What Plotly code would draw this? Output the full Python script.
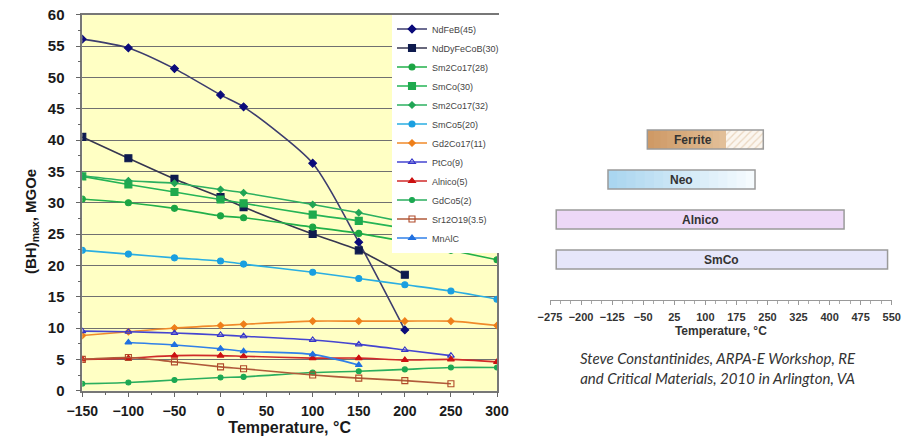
import plotly.graph_objects as go
import numpy as np

# ---------------- data: left chart ----------------
temps = [-150, -100, -50, 0, 25, 100, 150, 200, 250, 300]

ndfeb_45      = [56.1, 54.7, 51.4, 47.2, 45.3, 36.3, 23.7, 9.7, None, None]
ndfecob_30    = [40.5, 37.1, 33.8, 30.9, 29.3, 25.0, 22.4, 18.5, None, None]
sm2co17_28    = [30.6, 30.0, 29.1, 27.9, 27.6, 26.1, 25.1, 23.8, 22.4, 20.9]
smco_30       = [34.2, 32.9, 31.7, 30.5, 29.9, 28.1, 27.1, 25.9, 24.8, 23.8]
sm2co17_32    = [34.3, 33.5, 33.1, 32.1, 31.6, 29.7, 28.4, 26.9, 25.6, 23.8]
smco5_20      = [22.4, 21.8, 21.2, 20.7, 20.2, 18.9, 17.9, 16.9, 15.9, 14.6]
gd2co17_11    = [8.8, 9.4, 10.0, 10.4, 10.6, 11.1, 11.1, 11.1, 11.1, 10.4]
ptco_9        = [9.5, 9.4, 9.2, 8.9, 8.7, 8.1, 7.4, 6.5, 5.6, None]
alnico_5      = [5.0, 5.2, 5.6, 5.6, 5.5, 5.2, 5.2, 4.9, 5.0, 4.6]
gdco5_2       = [1.1, 1.3, 1.7, 2.1, 2.2, 2.9, 3.1, 3.4, 3.7, 3.7]
sr12o19_35    = [5.0, 5.3, 4.6, 3.8, 3.5, 2.5, 2.0, 1.6, 1.1, None]
mnalc         = [None, 7.7, 7.3, 6.7, 6.3, 5.8, 4.1, None, None, None]

x_ticks = [-150, -100, -50, 0, 50, 100, 150, 200, 250, 300]
y_ticks = [0, 5, 10, 15, 20, 25, 30, 35, 40, 45, 50, 55, 60]

# ---------------- data: right chart ----------------
bar_names = ["SmCo", "Alnico", "Neo", "Ferrite"]
bar_start = [-260, -260, -135, -40]
bar_end = [540, 435, 220, 150]
ferrite_ext_end = 240            # hatched (extended) range of ferrite
range_ticks = [-275, -200, -125, -50, 25, 100, 175, 250, 325, 400, 475, 550]

# ---------------- figure ----------------
fig = go.Figure()

series = [
    ("NdFeB(45)", ndfeb_45, "#3d3d6e", "#0b0b7a", "diamond", 6),
    ("NdDyFeCoB(30)", ndfecob_30, "#363650", "#0e1a4e", "square", 7),
    ("Sm2Co17(28)", sm2co17_28, "#22b04a", "#1ca544", "circle", 6),
    ("SmCo(30)", smco_30, "#25b456", "#1faa4e", "square", 7),
    ("Sm2Co17(32)", sm2co17_32, "#2cb060", "#20a555", "diamond", 5),
    ("SmCo5(20)", smco5_20, "#2aaee2", "#1a9fe0", "circle", 6),
    ("Gd2Co17(11)", gd2co17_11, "#f08a2a", "#ee7f1a", "diamond", 5),
    ("PtCo(9)", ptco_9, "#4545d0", "#3535c8", "triangle-up-open", 6),
    ("Alnico(5)", alnico_5, "#d02a2a", "#cc1010", "triangle-up", 6),
    ("GdCo5(2)", gdco5_2, "#2aae5e", "#1ca852", "circle", 5),
    ("Sr12O19(3.5)", sr12o19_35, "#b05a3a", "#b04a2a", "square-open", 6),
    ("MnAlC", mnalc, "#3080e8", "#2070e0", "triangle-up", 6),
]

for name, vals, lc, mc, sym, ms in series:
    fig.add_trace(go.Scatter(
        x=temps, y=vals, name=name, mode="lines+markers",
        line=dict(color=lc, width=1.6, shape="spline", smoothing=0.7),
        marker=dict(color=mc, symbol=sym, size=ms, line=dict(color=mc, width=1.1)),
        connectgaps=False, xaxis="x", yaxis="y",
    ))

# ----- right chart bars -----
def hex2rgb(h):
    h = h.lstrip("#")
    return np.array([int(h[i:i + 2], 16) for i in (0, 2, 4)], dtype=float)

def grad_segments(y, x0, x1, c0, c1, n):
    edges = np.linspace(x0, x1, n + 1)
    a, b = hex2rgb(c0), hex2rgb(c1)
    for i in range(n):
        t = i / (n - 1) if n > 1 else 0.0
        c = a + (b - a) * t
        end = x1 if i == n - 1 else edges[i + 1] + 3  # slight overlap avoids seams
        fig.add_trace(go.Bar(
            y=[y], x=[end - edges[i]], base=[edges[i]], orientation="h",
            marker=dict(color="rgb(%d,%d,%d)" % tuple(c), line=dict(width=0)),
            width=0.47, showlegend=False, hoverinfo="skip", xaxis="x2", yaxis="y2",
        ))

fills = {
    "SmCo": ("#e6e6fa", "#e6e6fa", 1),
    "Alnico": ("#edd8f7", "#edd8f7", 1),
    "Neo": ("#aad6f0", "#f5fbfe", 16),
    "Ferrite": ("#cf9a66", "#e2bf98", 12),
}
for i, nm in enumerate(bar_names):
    c0, c1, n = fills[nm]
    grad_segments(i, bar_start[i], bar_end[i], c0, c1, n)

# ferrite hatched extension
fi = bar_names.index("Ferrite")
fig.add_trace(go.Bar(
    y=[fi], x=[ferrite_ext_end - bar_end[fi]], base=[bar_end[fi]], orientation="h",
    marker=dict(color="white", line=dict(width=0),
                pattern=dict(shape="/", fgcolor="#d9b892", bgcolor="#fbf6ef", size=5, solidity=0.25)),
    width=0.47, showlegend=False, hoverinfo="skip", xaxis="x2", yaxis="y2",
))

# outlines
full_end = list(bar_end)
full_end[fi] = ferrite_ext_end
fig.add_trace(go.Bar(
    y=list(range(len(bar_names))), x=[e - s for s, e in zip(bar_start, full_end)], base=bar_start,
    orientation="h", width=0.47,
    marker=dict(color="rgba(0,0,0,0)", line=dict(color="#9a9a9a", width=1.5)),
    showlegend=False, hoverinfo="skip", xaxis="x2", yaxis="y2",
))

for i, nm in enumerate(bar_names):
    fig.add_annotation(
        x=(bar_start[i] + full_end[i]) / 2, y=i, xref="x2", yref="y2", text="<b>%s</b>" % nm,
        showarrow=False, xanchor="center", yanchor="middle",
        xshift=-12 if nm == "Ferrite" else 0,
        font=dict(family="Liberation Sans", size=12, color="#333333"),
    )

W, H = 915, 443
def px_x(p): return p / W
def px_y(p): return 1 - p / H

axis_font = dict(family="Liberation Sans", size=14, color="#1a1a1a", weight="bold")

# yellow plot-area background for the left chart only
fig.add_shape(type="rect", xref="x domain", yref="y domain", x0=0, x1=1, y0=0, y1=1,
              fillcolor="#ffffc4", line=dict(width=0), layer="below")

fig.update_layout(
    width=W, height=H,
    margin=dict(l=0, r=0, t=0, b=0, autoexpand=False),
    paper_bgcolor="white",
    plot_bgcolor="white",
    barmode="overlay",
    showlegend=True,
    legend=dict(
        x=px_x(392), y=px_y(14.5), xanchor="left", yanchor="top",
        bgcolor="white", borderwidth=0,
        font=dict(family="Liberation Sans", size=9, color="#444444"),
        itemwidth=30, tracegroupgap=0,
    ),
    xaxis=dict(
        domain=[px_x(82.3), px_x(497)], range=[-150, 300], automargin=False,
        tickvals=x_ticks, ticks="outside", ticklen=5, tickcolor="#666666",
        minor=dict(dtick=25, tick0=-150, ticks="outside", ticklen=3, tickcolor="#666666", showgrid=False),
        showline=True, linecolor="#777777", linewidth=1.5, mirror=True,
        showgrid=False, zeroline=False, tickfont=axis_font, ticklabelstandoff=2,
        title=dict(text="<b>Temperature, °C</b>", font=dict(family="Liberation Sans", size=16, color="#1a1a1a"),
                   standoff=3),
        anchor="y",
    ),
    yaxis=dict(
        domain=[px_y(390.7), px_y(14.7)], range=[0, 60], automargin=False,
        tickvals=y_ticks, ticks="outside", ticklen=5, tickcolor="#666666",
        minor=dict(dtick=2.5, ticks="outside", ticklen=3, tickcolor="#666666", showgrid=False),
        showline=True, linecolor="#777777", linewidth=1.5, mirror=True,
        showgrid=True, gridcolor="#707070", gridwidth=1, zeroline=False,
        tickfont=dict(family="Liberation Sans", size=15, color="#1a1a1a", weight="bold"),
        ticklabelstandoff=8,
        anchor="x",
    ),
    xaxis2=dict(
        domain=[px_x(550), px_x(891.7)], range=[-275, 550], automargin=False,
        tickvals=range_ticks, ticks="outside", ticklen=4, tickcolor="#999999",
        minor=dict(dtick=25, tick0=-275, ticks="outside", ticklen=3, tickcolor="#aaaaaa", showgrid=False),
        showline=True, linecolor="#999999", linewidth=1,
        showgrid=False, zeroline=False,
        tickfont=dict(family="Liberation Sans", size=11, color="#333333", weight="bold"),
        ticklabelstandoff=3,
        title=dict(text="<b>Temperature, °C</b>", font=dict(family="Liberation Sans", size=12, color="#333333"),
                   standoff=4),
        anchor="y2",
    ),
    yaxis2=dict(
        domain=[px_y(300), px_y(120)], range=[-1.0125, 3.4875], automargin=False,
        showticklabels=False, showgrid=False, zeroline=False, showline=False, ticks="",
        anchor="x2",
    ),
)

# y axis title
fig.add_annotation(
    x=px_x(31), y=px_y(221), xref="paper", yref="paper", textangle=-90,
    xanchor="center", yanchor="middle",
    text="<b>(BH)<sub>max</sub>, MGOe</b>", showarrow=False,
    font=dict(family="Liberation Sans", size=15, color="#1a1a1a"),
)

# caption
fig.add_annotation(
    x=px_x(718), y=px_y(368), xref="paper", yref="paper",
    xanchor="center", yanchor="middle",
    text="<i>Steve Constantinides, ARPA-E Workshop, RE<br>and Critical Materials, 2010 in Arlington, VA</i>",
    showarrow=False, align="center",
    font=dict(family="Lato", size=15, color="#333333"),
)

fig.write_html(
    "out.html",
    config={"displayModeBar": False},
    post_script="document.body.style.margin='0';document.body.style.overflow='hidden';",
)
